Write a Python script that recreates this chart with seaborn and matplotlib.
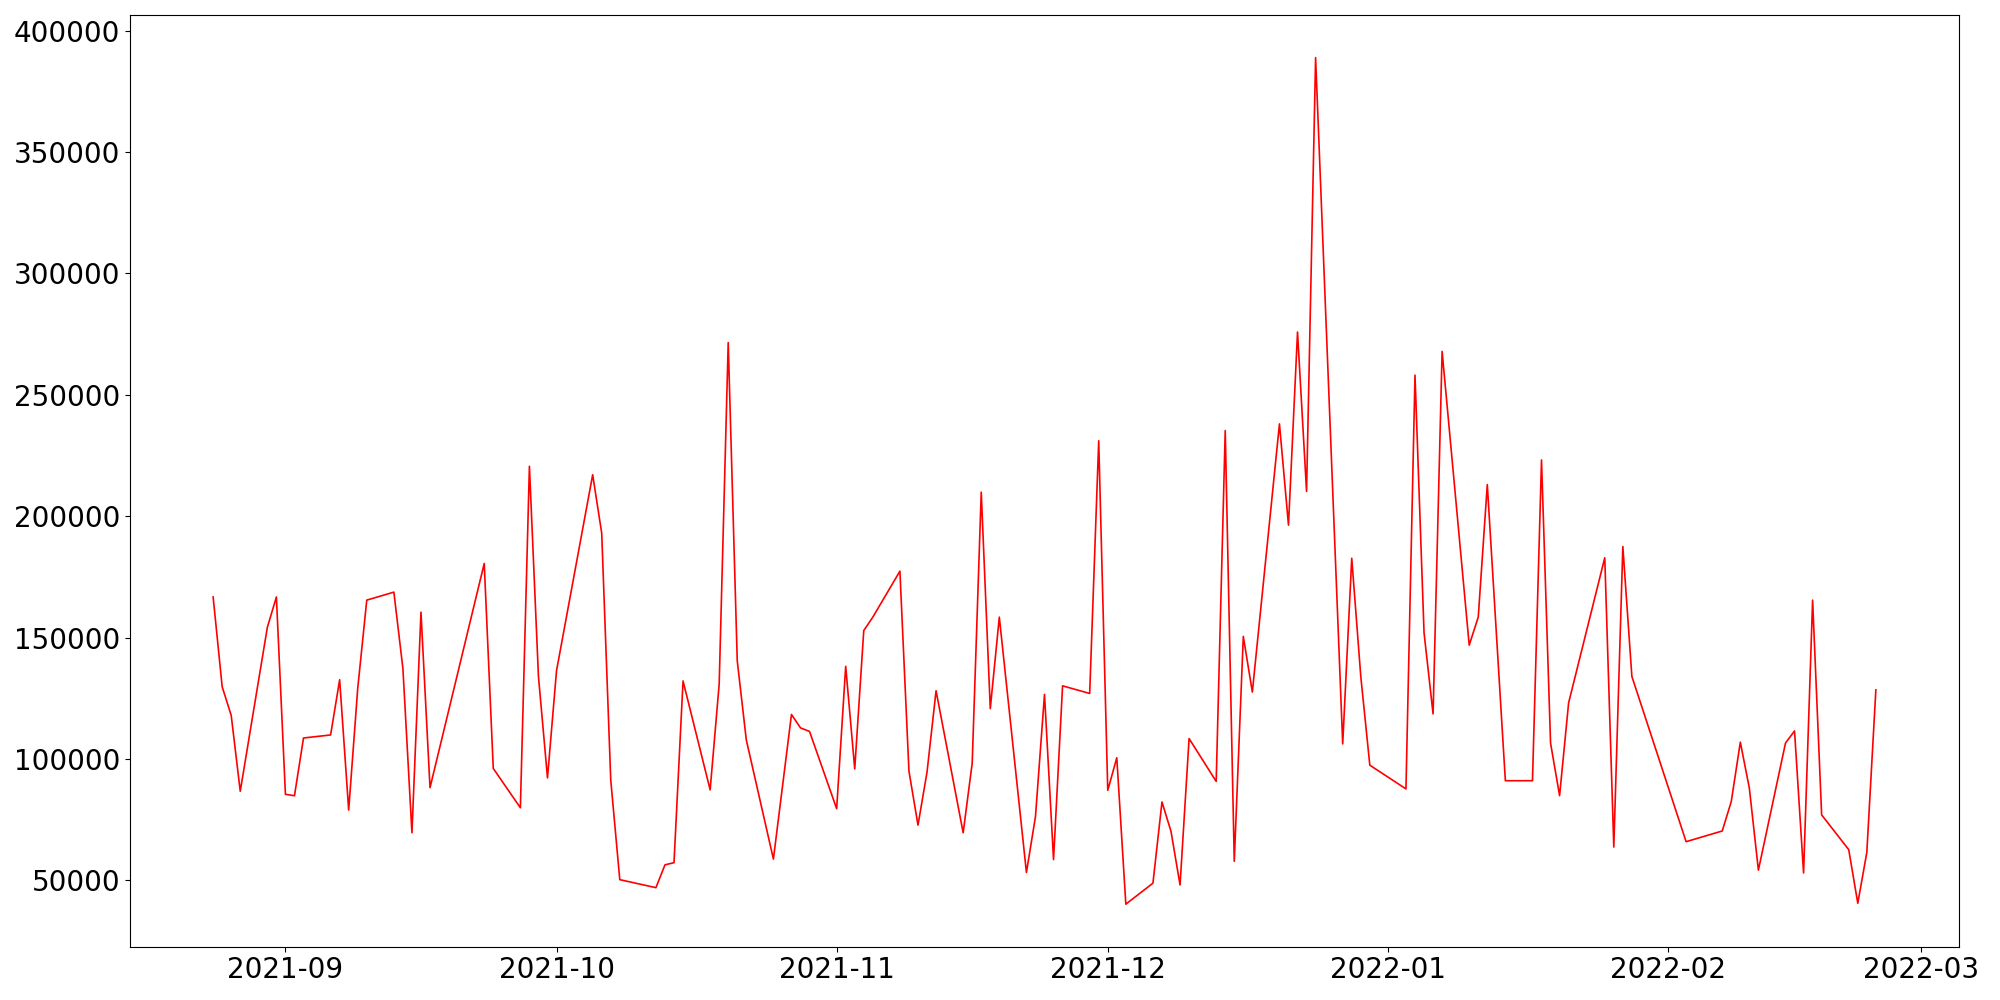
import matplotlib
matplotlib.use("Agg")
import matplotlib.pyplot as plt
import seaborn as sns
import pandas as pd

dates = [
    "2021-08-24", "2021-08-25", "2021-08-26", "2021-08-27", "2021-08-30", "2021-08-31",
    "2021-09-01", "2021-09-02", "2021-09-03", "2021-09-06", "2021-09-07", "2021-09-08",
    "2021-09-09", "2021-09-10", "2021-09-13", "2021-09-14", "2021-09-15", "2021-09-16",
    "2021-09-17", "2021-09-23", "2021-09-24", "2021-09-27", "2021-09-28", "2021-09-29",
    "2021-09-30", "2021-10-01", "2021-10-05", "2021-10-06", "2021-10-07", "2021-10-08",
    "2021-10-12", "2021-10-13", "2021-10-14", "2021-10-15", "2021-10-18", "2021-10-19",
    "2021-10-20", "2021-10-21", "2021-10-22", "2021-10-25", "2021-10-26", "2021-10-27",
    "2021-10-28", "2021-10-29", "2021-11-01", "2021-11-02", "2021-11-03", "2021-11-04",
    "2021-11-05", "2021-11-08", "2021-11-09", "2021-11-10", "2021-11-11", "2021-11-12",
    "2021-11-15", "2021-11-16", "2021-11-17", "2021-11-18", "2021-11-19", "2021-11-22",
    "2021-11-23", "2021-11-24", "2021-11-25", "2021-11-26", "2021-11-29", "2021-11-30",
    "2021-12-01", "2021-12-02", "2021-12-03", "2021-12-06", "2021-12-07", "2021-12-08",
    "2021-12-09", "2021-12-10", "2021-12-13", "2021-12-14", "2021-12-15", "2021-12-16",
    "2021-12-17", "2021-12-20", "2021-12-21", "2021-12-22", "2021-12-23", "2021-12-24",
    "2021-12-27", "2021-12-28", "2021-12-29", "2021-12-30", "2022-01-03", "2022-01-04",
    "2022-01-05", "2022-01-06", "2022-01-07", "2022-01-10", "2022-01-11", "2022-01-12",
    "2022-01-14", "2022-01-17", "2022-01-18", "2022-01-19", "2022-01-20", "2022-01-21",
    "2022-01-25", "2022-01-26", "2022-01-27", "2022-01-28", "2022-02-03", "2022-02-07",
    "2022-02-08", "2022-02-09", "2022-02-10", "2022-02-11", "2022-02-14", "2022-02-15",
    "2022-02-16", "2022-02-17", "2022-02-18", "2022-02-21", "2022-02-22", "2022-02-23",
    "2022-02-24",
]

values = [
    166700, 129700, 117900, 86650, 154200, 166700,
    85400, 84800, 108600, 109850, 132600, 78900,
    129000, 165400, 168700, 137250, 69550, 160450,
    88130, 180500, 96050, 79850, 220560, 133950,
    92170, 136340, 217060, 193000, 91260, 50230,
    46930, 56330, 57230, 132100, 87230, 130820,
    271530, 140380, 107830, 58710, 88500, 118290,
    112770, 111290, 79460, 138130, 95860, 152860,
    158390, 177340, 94930, 72680, 94560, 128060,
    69550, 98270, 209890, 120680, 158400, 53190,
    76180, 126570, 58500, 130080, 126950, 231070,
    87020, 100450, 40130, 48780, 82240, 70110,
    48040, 108360, 90710, 235270, 57800, 150460,
    127530, 238010, 196290, 275860, 210200, 388920,
    106160, 182650, 133970, 97400, 87620, 258100,
    152000, 118520, 267880, 146850, 158430, 213020,
    91000, 91000, 223160, 106510, 84840, 123080,
    182860, 63660, 187480, 133950, 65880, 70290,
    82450, 106880, 87920, 54140, 106510, 111500,
    52990, 165400, 76920, 62570, 40500, 61470,
    128430,
]

df = pd.DataFrame({"date": pd.to_datetime(dates), "value": values})

fig = plt.figure(figsize=(20, 10), dpi=100)
ax = fig.add_axes([0.065, 0.0535, 0.9145, 0.9312])
sns.lineplot(data=df, x="date", y="value", color="red", linewidth=1.2, ax=ax)
ax.set_xlabel("")
ax.set_ylabel("")
ax.tick_params(axis="both", labelsize=20)
fig.savefig("out.png", dpi=100)
